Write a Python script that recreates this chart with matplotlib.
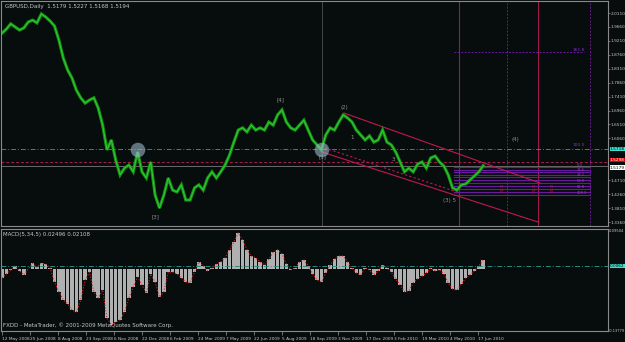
import matplotlib
matplotlib.use("Agg")
import matplotlib.pyplot as plt
import numpy as np

plt.rcParams["font.family"] = ["Liberation Sans Narrow", "DejaVu Sans"]

# GBPUSD daily, 12 May 2008 .. Jun 2010, one close every 5 bars
close = [1.946, 1.959, 1.976, 1.966, 1.956, 1.963, 1.982, 1.988, 1.979, 2.008,
         1.998, 1.985, 1.969, 1.924, 1.866, 1.827, 1.801, 1.762, 1.737, 1.720,
         1.730, 1.737, 1.704, 1.649, 1.569, 1.601, 1.536, 1.488, 1.510, 1.520,
         1.498, 1.562, 1.498, 1.478, 1.530, 1.423, 1.381, 1.423, 1.478, 1.439,
         1.433, 1.456, 1.407, 1.407, 1.446, 1.456, 1.439, 1.478, 1.498, 1.478,
         1.498, 1.520, 1.552, 1.594, 1.633, 1.640, 1.627, 1.649, 1.633, 1.640,
         1.633, 1.659, 1.649, 1.682, 1.698, 1.659, 1.640, 1.633, 1.649, 1.665,
         1.633, 1.601, 1.585, 1.569, 1.617, 1.640, 1.633, 1.659, 1.682, 1.672,
         1.659, 1.633, 1.617, 1.601, 1.614, 1.594, 1.601, 1.633, 1.594, 1.585,
         1.562, 1.530, 1.498, 1.510, 1.498, 1.523, 1.530, 1.510, 1.543, 1.549,
         1.530, 1.517, 1.488, 1.446, 1.439, 1.456, 1.459, 1.472, 1.485, 1.498,
         1.518]

# MACD(5,34,5) main line, same sampling
macd = [-0.020, -0.011, -0.002, 0.007, -0.004, -0.013, 0.000, 0.013, 0.004, 0.013,
        0.011, 0.002, -0.029, -0.051, -0.069, -0.078, -0.092, -0.096, -0.069, -0.025,
        -0.007, -0.051, -0.065, -0.047, -0.110, -0.125, -0.119, -0.114, -0.096, -0.065,
        -0.040, -0.018, -0.036, -0.054, -0.011, -0.029, -0.063, -0.051, -0.007, -0.007,
        -0.011, -0.020, -0.029, -0.031, -0.007, 0.016, 0.007, -0.004, 0.002, 0.011,
        0.016, 0.025, 0.043, 0.060, 0.081, 0.065, 0.043, 0.029, 0.025, 0.016,
        0.009, 0.022, 0.038, 0.043, 0.034, 0.011, -0.002, 0.002, 0.016, 0.020,
        0.007, -0.011, -0.025, -0.029, -0.009, 0.009, 0.022, 0.029, 0.029, 0.016,
        0.002, -0.009, -0.013, 0.002, -0.002, -0.013, -0.004, 0.009, 0.002, -0.007,
        -0.022, -0.036, -0.051, -0.049, -0.031, -0.022, -0.016, -0.009, 0.002, -0.004,
        -0.002, -0.011, -0.031, -0.045, -0.047, -0.034, -0.020, -0.013, -0.004, 0.007,
        0.021]

date_labels = ["12 May 2008", "25 Jun 2008", "8 Aug 2008", "23 Sep 2008", "6 Nov 2008",
               "22 Dec 2008", "6 Feb 2009", "24 Mar 2009", "7 May 2009", "22 Jun 2009",
               "5 Aug 2009", "18 Sep 2009", "3 Nov 2009", "17 Dec 2009", "3 Feb 2010",
               "19 Mar 2010", "4 May 2010", "17 Jun 2010"]
date_bars = [0, 32, 64, 96, 128, 160, 192, 224, 256, 288, 320, 352, 384, 416, 448, 480, 512, 544]

price_ticks = [2.0110, 1.9660, 1.9210, 1.8760, 1.8310, 1.7860, 1.7410, 1.6960,
               1.6510, 1.6060, 1.4710, 1.4260, 1.3810, 1.3360]

# objects drawn on the chart (bar index, price)
wave_labels = [("[4]", 317.7, 1.730), ("(2)", 390.9, 1.707), ("[1]", 365.7, 1.546),
               ("[3]", 174.9, 1.352), ("(3) 5", 512.0, 1.404), ("(4)", 586.3, 1.601),
               ("3", 446.9, 1.539), ("1", 400.0, 1.610)]
circles = [(155.4, 1.5685), (365.7, 1.5685)]
channel_up = [(390.9, 1.688), (614.9, 1.462)]
channel_dn = [(365.7, 1.562), (612.6, 1.336)]
channel_mid = [(369.1, 1.575), (520.0, 1.433)]
vlines_gray = [365.7]
vlines_red = [522.3, 612.6]
vlines_purple = [577.1, 672.0]
fib_levels = [1.5136, 1.5039, 1.4975, 1.4878, 1.4813, 1.4716, 1.4619,
              1.4523, 1.4426, 1.4329, 1.4232]
fib_names = ["0.0", "23.6", "38.2", "50.0", "61.8", "100.0"]
fib_top = 1.885
level_teal = 1.5718
level_red = 1.5298
bid = 1.5179
macd_level = 0.0062

bg = "#070d0d"
fg = "#c8c8c8"
fs = 4.0
afs = 3.1

fig = plt.figure(figsize=(6.25, 3.42), dpi=100, facecolor=bg)
ax = fig.add_axes([1 / 625, 1 - 226 / 342, 607 / 625, 225 / 342], facecolor=bg)
ax2 = fig.add_axes([1 / 625, 1 - 331 / 342, 607 / 625, 102 / 342], facecolor=bg)

x = np.arange(len(close)) * 5
xlim = (-1.14, 692.6)

# ---- price panel
for b in vlines_gray:
    ax.axvline(b, color="#505050", lw=0.6)
for b in vlines_red:
    ax.axvline(b, color="#a0184a", lw=0.8)
for b in vlines_purple:
    ax.axvline(b, color="#6a1a8a", lw=0.7, ls=(0, (2, 1.5)))

ax.axhline(level_teal, color="#2a8a80", lw=0.7, ls=(0, (5, 2, 1, 2)))
ax.axhline(level_red, color="#a0204a", lw=0.7, ls=(0, (3, 2)))
ax.axhline(bid, color="#6a6a6a", lw=0.7)

for lv in fib_levels:
    ax.plot([517, 672], [lv, lv], color="#6a18a0", lw=0.8)
for lv, nm in zip(fib_levels[::2], fib_names):
    ax.text(657, lv, nm, color="#a040d0", fontsize=2.6, va="bottom", ha="left")
ax.plot([517, 665], [fib_top, fib_top], color="#6a18a0", lw=0.7, ls=(0, (2, 1.5)))
ax.text(652, fib_top, "161.8", color="#8030c0", fontsize=3.2, va="bottom")
ax.text(652, 1.5782, "100.0", color="#8030c0", fontsize=3.2, va="bottom")
for b in [572.6, 609.1, 629.7]:
    ax.text(b, 1.449, "61.8", color="#c01840", fontsize=3, rotation=90, ha="center", va="center")

for pts, ls in [(channel_up, "-"), (channel_dn, "-"), (channel_mid, (0, (2, 2)))]:
    ax.plot([p[0] for p in pts], [p[1] for p in pts], color="#c01850", lw=0.8, ls=ls)

ax.plot(x, close, color="#139a13", lw=2.2, solid_joinstyle="miter")
ax.plot(x, close, color="#3ccc3c", lw=0.6)

ax.scatter([c[0] for c in circles], [c[1] for c in circles], s=110,
           color="#9ab8c8", alpha=0.6, edgecolors="none", zorder=5)

for t, b, p in wave_labels:
    ax.text(b, p, t, color="#909090", fontsize=fs, ha="center", va="center")

ax.text(0.006, 0.985, "GBPUSD,Daily  1.5179 1.5227 1.5168 1.5194", transform=ax.transAxes,
        color=fg, fontsize=fs, va="top", ha="left")

ax.set_xlim(*xlim)
ax.set_ylim(1.3231, 2.0498)
ax.set_xticks([])
ax.yaxis.tick_right()
ax.set_yticks(price_ticks)
ax.set_yticklabels(["%.4f" % v for v in price_ticks])
ax.tick_params(axis="y", colors="#808080", labelcolor=fg, labelsize=afs, length=1.5, width=0.6, pad=0.5)

tr = ax.get_yaxis_transform()
for val, fc, tc, va in [(level_teal, "#40e0d0", "#000000", "center"),
                        (level_red, "#e00000", "#ffffff", "bottom"),
                        (bid, "#ffffff", "#000000", "top")]:
    ax.text(1.003, val, "%.4f" % val, transform=tr, fontsize=afs, color=tc, va=va, ha="left",
            bbox=dict(boxstyle="square,pad=0.05", fc=fc, ec="none"), clip_on=False)

# ---- MACD panel
ax2.bar(x, macd, width=4, color="#b0b0b0", edgecolor="none")
ax2.plot(x, macd, color="#e02020", lw=0.8, ls=(0, (1, 1.5)))
ax2.axhline(macd_level, color="#2a8a80", lw=0.7, ls=(0, (5, 2, 1, 2)))
ax2.set_xlim(*xlim)
ax2.set_ylim(-0.1388, 0.0896)
ax2.yaxis.tick_right()
ax2.set_yticks([])
tr2 = ax2.get_yaxis_transform()
ax2.text(1.002, 0.0896, "0.09504", transform=tr2, fontsize=2.7, color=fg, va="top", clip_on=False)
ax2.text(1.002, -0.1388, "-0.13779", transform=tr2, fontsize=2.6, color=fg, va="center", clip_on=False)
ax2.text(1.003, macd_level, "0.0062", transform=tr2, fontsize=afs, color="#000000", va="center",
         bbox=dict(boxstyle="square,pad=0.05", fc="#40e0d0", ec="none"), clip_on=False)
ax2.text(0.004, 0.97, "MACD(5,34,5) 0.02496 0.02108", transform=ax2.transAxes,
         color=fg, fontsize=fs, va="top")
ax2.text(0.004, 0.03, "FXDD - MetaTrader, \u00a9 2001-2009 MetaQuotes Software Corp.",
         transform=ax2.transAxes, color=fg, fontsize=fs, va="bottom")

ax2.set_xticks(date_bars)
ax2.set_xticklabels(date_labels, ha="left")
ax2.tick_params(axis="x", colors="#808080", labelcolor=fg, labelsize=afs, length=3, width=0.6, pad=1)

for a in (ax, ax2):
    for s in a.spines.values():
        s.set_color("#8a8a8a")
        s.set_linewidth(0.8)

fig.savefig("out.png", dpi=100, facecolor=bg)
